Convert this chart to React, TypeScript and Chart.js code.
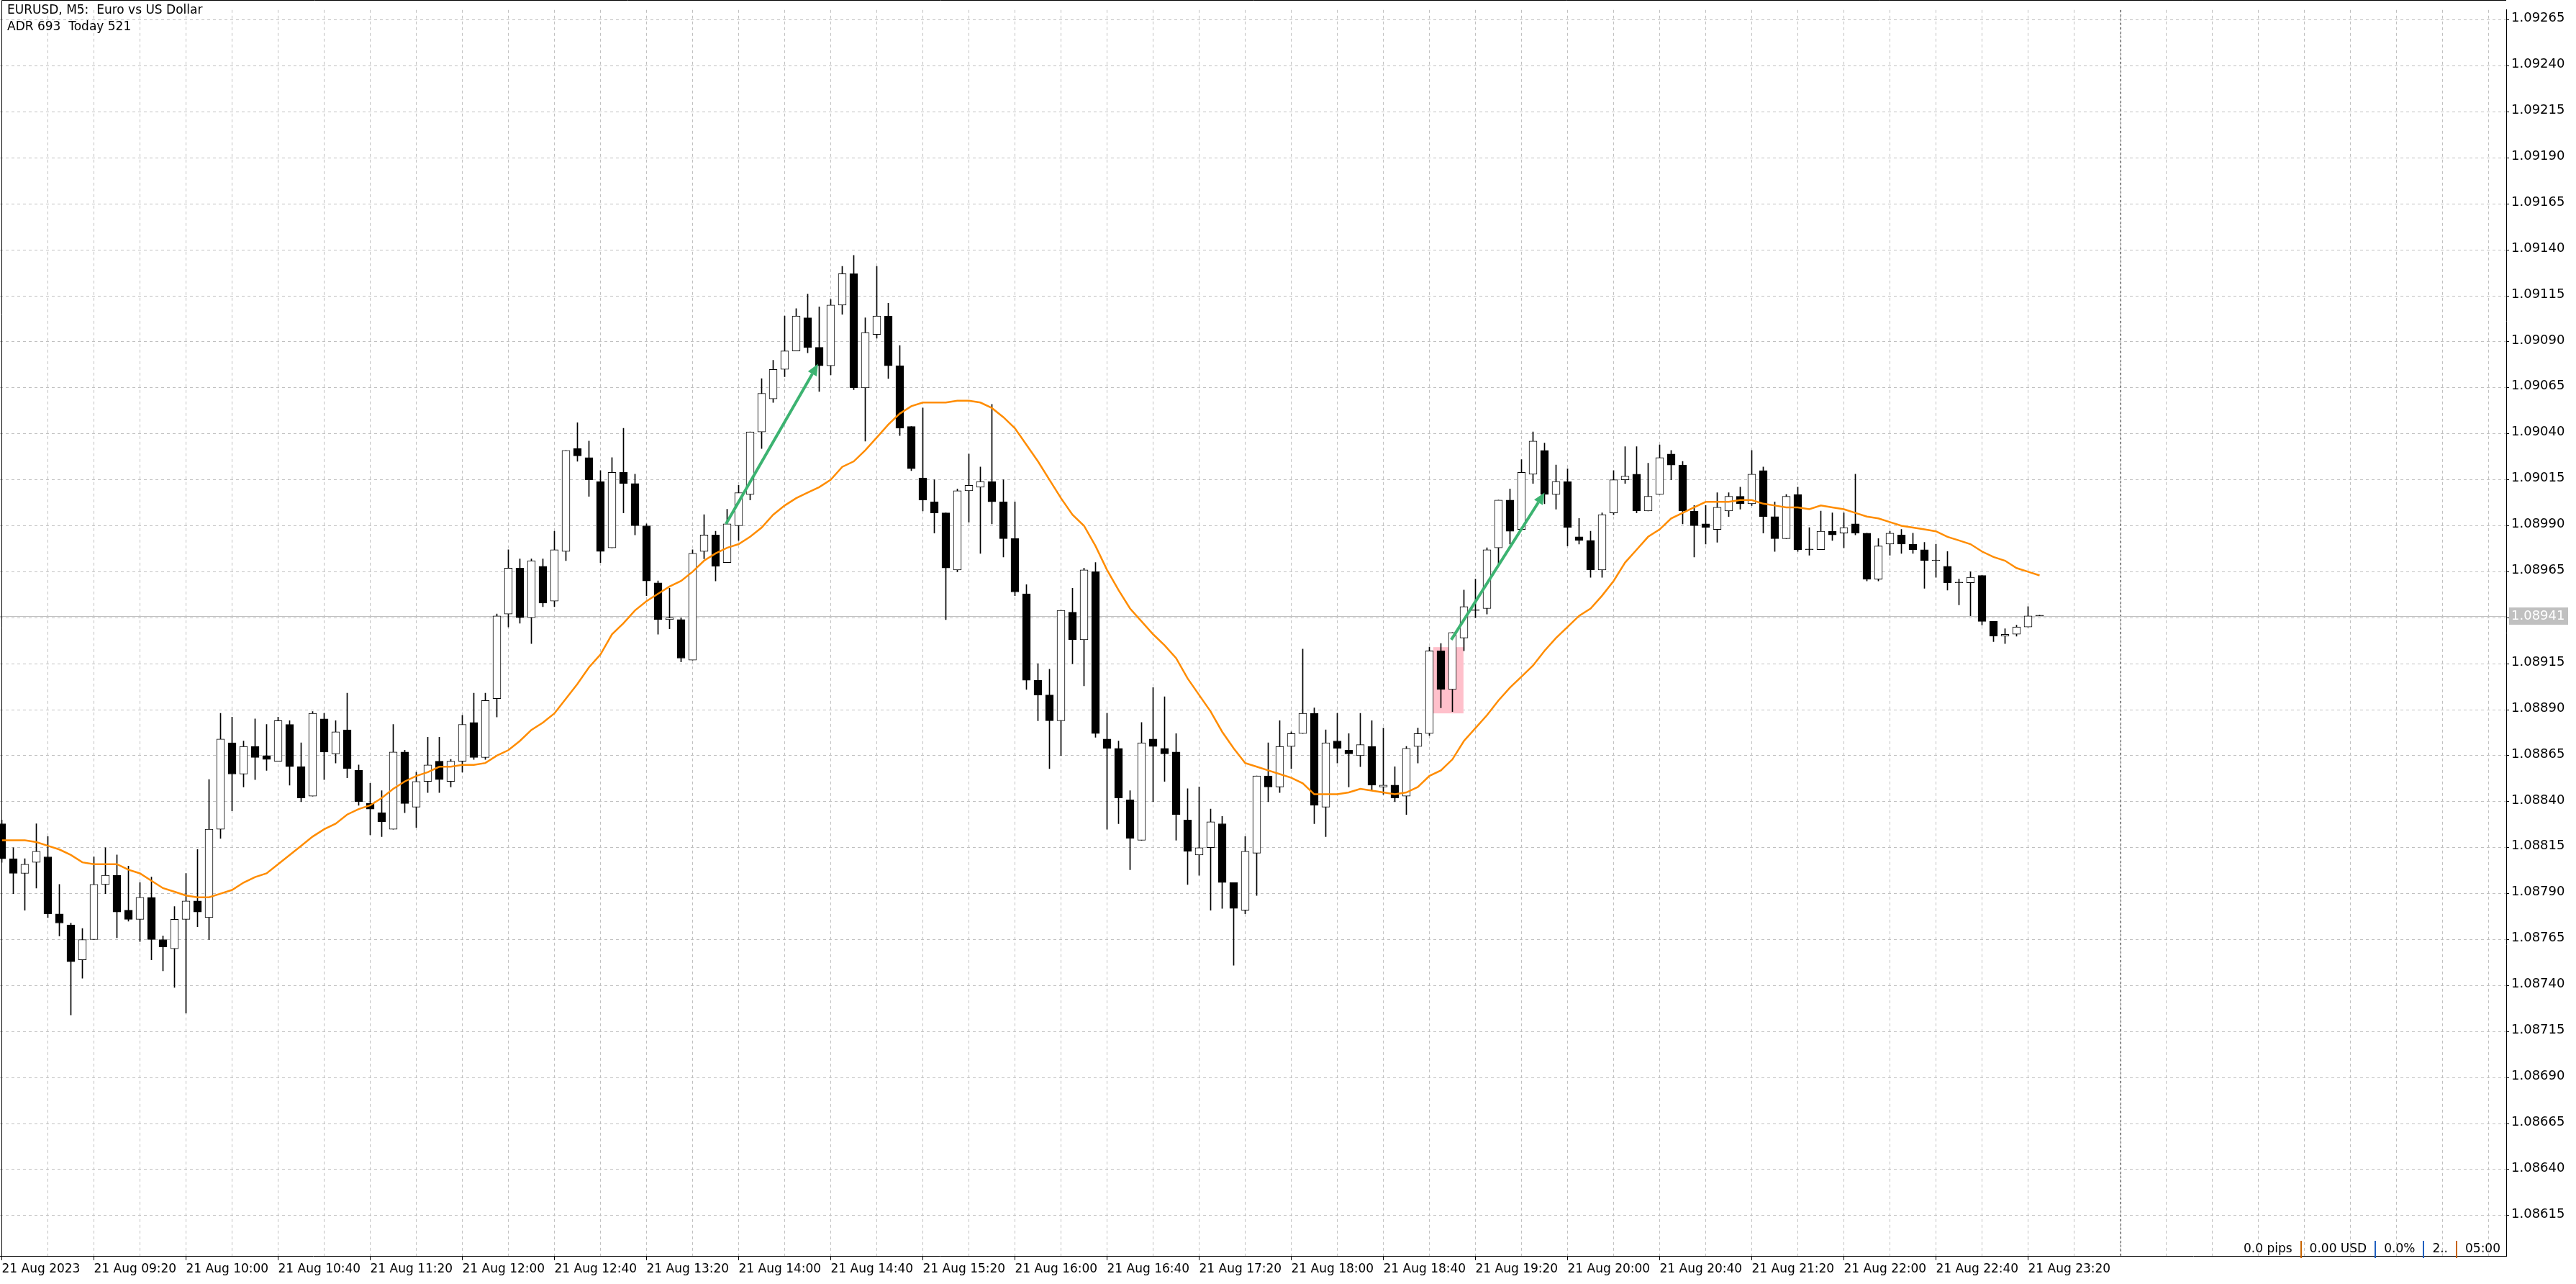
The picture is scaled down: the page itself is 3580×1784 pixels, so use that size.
import React, { useEffect, useRef } from 'react';
import { Chart, registerables } from 'chart.js';

Chart.register(...registerables);

// ---------------- DATA ----------------
const opens = [
  1.08828, 1.08809, 1.08801, 1.08807, 1.08810, 1.08779, 1.08773, 1.08754, 1.08765, 1.08795,
  1.08800, 1.08781, 1.08776, 1.08788, 1.08765, 1.08760, 1.08776, 1.08786, 1.08777, 1.08825,
  1.08872, 1.08855, 1.08870, 1.08865, 1.08862, 1.08882, 1.08859, 1.08843, 1.08885, 1.08866,
  1.08879, 1.08857, 1.08839, 1.08834, 1.08825, 1.08867, 1.08837, 1.08851, 1.08862, 1.08851,
  1.08862, 1.08883, 1.08864, 1.08896, 1.08942, 1.08967, 1.08940, 1.08968, 1.08949, 1.08976,
  1.09032, 1.09027, 1.09014, 1.08978, 1.09019, 1.09013, 1.08990, 1.08959, 1.08939, 1.08939,
  1.08917, 1.08976, 1.08985, 1.08970, 1.08990, 1.09007, 1.09041, 1.09059, 1.09075, 1.09085,
  1.09103, 1.09087, 1.09077, 1.09110, 1.09127, 1.09065, 1.09094, 1.09104, 1.09077, 1.09044,
  1.09016, 1.09003, 1.08997, 1.08966, 1.09009, 1.09011, 1.09014, 1.09003, 1.08983, 1.08953,
  1.08906, 1.08898, 1.08884, 1.08943, 1.08928, 1.08965, 1.08874, 1.08869, 1.08841, 1.08819,
  1.08874, 1.08869, 1.08867, 1.08830, 1.08811, 1.08815, 1.08828, 1.08796, 1.08781, 1.08812,
  1.08854, 1.08848, 1.08870, 1.08877, 1.08888, 1.08837, 1.08873, 1.08868, 1.08865, 1.08870,
  1.08848, 1.08849, 1.08843, 1.08870, 1.08877, 1.08922, 1.08901, 1.08929, 1.08944, 1.08945,
  1.08978, 1.09004, 1.08988, 1.09018, 1.09031, 1.09007, 1.09014, 1.08984, 1.08982, 1.08966,
  1.08997, 1.09015, 1.09018, 1.08998, 1.09007, 1.09029, 1.09023, 1.08998, 1.08991, 1.08988,
  1.08998, 1.09006, 1.09002, 1.09020, 1.08995, 1.08983, 1.09007, 1.08977, 1.08977, 1.08987,
  1.08986, 1.08991, 1.08986, 1.08961, 1.08980, 1.08985, 1.08980, 1.08977, 1.08971, 1.08968,
  1.08959, 1.08959, 1.08963, 1.08938, 1.08930, 1.08931, 1.08935, 1.08941,
];

const highs = [
  1.08830, 1.08815, 1.08809, 1.08828, 1.08821, 1.08795, 1.08774, 1.08771, 1.08810, 1.08815,
  1.08811, 1.08805, 1.08796, 1.08799, 1.08767, 1.08783, 1.08801, 1.08814, 1.08852, 1.08888,
  1.08886, 1.08873, 1.08885, 1.08882, 1.08886, 1.08884, 1.08872, 1.08889, 1.08888, 1.08884,
  1.08899, 1.08860, 1.08850, 1.08846, 1.08882, 1.08868, 1.08856, 1.08875, 1.08875, 1.08863,
  1.08887, 1.08899, 1.08899, 1.08942, 1.08977, 1.08972, 1.08972, 1.08972, 1.08987, 1.09031,
  1.09046, 1.09036, 1.09020, 1.09027, 1.09043, 1.09018, 1.08991, 1.08960, 1.08956, 1.08940,
  1.08977, 1.08996, 1.08987, 1.08999, 1.09012, 1.09041, 1.09070, 1.09080, 1.09104, 1.09108,
  1.09116, 1.09109, 1.09113, 1.09131, 1.09137, 1.09103, 1.09131, 1.09111, 1.09088, 1.09044,
  1.09054, 1.09015, 1.08997, 1.09010, 1.09029, 1.09022, 1.09056, 1.09015, 1.09003, 1.08958,
  1.08915, 1.08912, 1.08944, 1.08956, 1.08967, 1.08970, 1.08888, 1.08873, 1.08846, 1.08883,
  1.08902, 1.08897, 1.08877, 1.08847, 1.08848, 1.08836, 1.08832, 1.08796, 1.08821, 1.08854,
  1.08872, 1.08884, 1.08878, 1.08923, 1.08891, 1.08879, 1.08888, 1.08877, 1.08888, 1.08884,
  1.08880, 1.08859, 1.08870, 1.08880, 1.08924, 1.08926, 1.08932, 1.08955, 1.08961, 1.08978,
  1.09004, 1.09010, 1.09026, 1.09041, 1.09035, 1.09023, 1.09021, 1.08994, 1.08987, 1.08997,
  1.09020, 1.09033, 1.09033, 1.09024, 1.09034, 1.09031, 1.09025, 1.09001, 1.09001, 1.09008,
  1.09008, 1.09011, 1.09031, 1.09022, 1.09003, 1.09007, 1.09011, 1.08989, 1.08998, 1.08997,
  1.08997, 1.09018, 1.08986, 1.08983, 1.08987, 1.08988, 1.08986, 1.08981, 1.08980, 1.08976,
  1.08961, 1.08965, 1.08963, 1.08938, 1.08934, 1.08936, 1.08946, 1.08941,
];

const lows = [
  1.08807, 1.08790, 1.08781, 1.08793, 1.08777, 1.08767, 1.08724, 1.08744, 1.08765, 1.08790,
  1.08766, 1.08775, 1.08764, 1.08754, 1.08748, 1.08739, 1.08725, 1.08772, 1.08765, 1.08820,
  1.08835, 1.08848, 1.08852, 1.08857, 1.08862, 1.08849, 1.08840, 1.08843, 1.08852, 1.08861,
  1.08853, 1.08838, 1.08822, 1.08821, 1.08825, 1.08834, 1.08826, 1.08845, 1.08845, 1.08848,
  1.08856, 1.08863, 1.08863, 1.08886, 1.08935, 1.08937, 1.08926, 1.08946, 1.08946, 1.08971,
  1.09025, 1.09006, 1.08970, 1.08978, 1.08997, 1.08985, 1.08952, 1.08931, 1.08934, 1.08916,
  1.08917, 1.08972, 1.08960, 1.08970, 1.08982, 1.09004, 1.09032, 1.09057, 1.09071, 1.09085,
  1.09084, 1.09063, 1.09072, 1.09105, 1.09064, 1.09036, 1.09092, 1.09070, 1.09039, 1.09020,
  1.08998, 1.08986, 1.08939, 1.08965, 1.08992, 1.08975, 1.08991, 1.08973, 1.08952, 1.08901,
  1.08884, 1.08858, 1.08865, 1.08915, 1.08903, 1.08875, 1.08825, 1.08828, 1.08803, 1.08819,
  1.08840, 1.08851, 1.08819, 1.08795, 1.08800, 1.08781, 1.08782, 1.08751, 1.08779, 1.08789,
  1.08840, 1.08845, 1.08858, 1.08877, 1.08828, 1.08821, 1.08861, 1.08848, 1.08859, 1.08846,
  1.08844, 1.08840, 1.08833, 1.08861, 1.08876, 1.08891, 1.08889, 1.08922, 1.08940, 1.08942,
  1.08968, 1.08980, 1.08988, 1.09013, 1.09002, 1.08999, 1.08979, 1.08980, 1.08962, 1.08962,
  1.08996, 1.09013, 1.08997, 1.08998, 1.09007, 1.09015, 1.08991, 1.08973, 1.08980, 1.08981,
  1.08995, 1.08999, 1.09001, 1.08986, 1.08976, 1.08983, 1.08976, 1.08974, 1.08977, 1.08982,
  1.08978, 1.08985, 1.08960, 1.08960, 1.08974, 1.08975, 1.08975, 1.08956, 1.08962, 1.08955,
  1.08947, 1.08941, 1.08936, 1.08927, 1.08926, 1.08930, 1.08935, 1.08941,
];

const closes = [
  1.08809, 1.08801, 1.08806, 1.08813, 1.08779, 1.08774, 1.08753, 1.08765, 1.08795, 1.08800,
  1.08780, 1.08776, 1.08788, 1.08765, 1.08761, 1.08776, 1.08786, 1.08780, 1.08825, 1.08874,
  1.08855, 1.08870, 1.08864, 1.08863, 1.08884, 1.08859, 1.08842, 1.08888, 1.08867, 1.08878,
  1.08858, 1.08840, 1.08836, 1.08829, 1.08867, 1.08839, 1.08851, 1.08860, 1.08852, 1.08862,
  1.08882, 1.08864, 1.08895, 1.08941, 1.08967, 1.08940, 1.08971, 1.08948, 1.08977, 1.09031,
  1.09028, 1.09015, 1.08976, 1.09019, 1.09013, 1.08990, 1.08960, 1.08939, 1.08940, 1.08918,
  1.08975, 1.08985, 1.08968, 1.08991, 1.09008, 1.09041, 1.09062, 1.09075, 1.09085, 1.09104,
  1.09087, 1.09077, 1.09110, 1.09127, 1.09065, 1.09095, 1.09104, 1.09077, 1.09043, 1.09021,
  1.09004, 1.08997, 1.08967, 1.09009, 1.09012, 1.09014, 1.09003, 1.08983, 1.08954, 1.08906,
  1.08898, 1.08884, 1.08944, 1.08928, 1.08966, 1.08877, 1.08869, 1.08842, 1.08820, 1.08872,
  1.08870, 1.08866, 1.08833, 1.08813, 1.08815, 1.08829, 1.08796, 1.08782, 1.08813, 1.08854,
  1.08848, 1.08870, 1.08877, 1.08888, 1.08838, 1.08872, 1.08869, 1.08866, 1.08871, 1.08849,
  1.08849, 1.08842, 1.08869, 1.08877, 1.08922, 1.08901, 1.08932, 1.08946, 1.08944, 1.08977,
  1.09004, 1.08987, 1.09019, 1.09036, 1.09007, 1.09014, 1.08989, 1.08982, 1.08966, 1.08996,
  1.09015, 1.09017, 1.08998, 1.09006, 1.09027, 1.09023, 1.08998, 1.08990, 1.08989, 1.09000,
  1.09006, 1.09002, 1.09018, 1.08995, 1.08983, 1.09006, 1.08977, 1.08977, 1.08987, 1.08985,
  1.08989, 1.08986, 1.08961, 1.08979, 1.08986, 1.08980, 1.08977, 1.08971, 1.08971, 1.08959,
  1.08959, 1.08962, 1.08938, 1.08930, 1.08931, 1.08935, 1.08941, 1.08941,
];

const maValues = [
  1.08819, 1.08819, 1.08819, 1.08818, 1.08816, 1.08814, 1.08811, 1.08807, 1.08806, 1.08806,
  1.08806, 1.08803, 1.08801, 1.08797, 1.08793, 1.08791, 1.08789, 1.08788, 1.08788, 1.08790,
  1.08792, 1.08796, 1.08799, 1.08801, 1.08806, 1.08811, 1.08816, 1.08821, 1.08825, 1.08828,
  1.08833, 1.08836, 1.08838, 1.08842, 1.08847, 1.08851, 1.08854, 1.08856, 1.08859, 1.08859,
  1.08860, 1.08860, 1.08861, 1.08865, 1.08868, 1.08873, 1.08879, 1.08883, 1.08888, 1.08896,
  1.08904, 1.08913, 1.08920, 1.08931, 1.08937, 1.08944, 1.08949, 1.08953, 1.08957, 1.08960,
  1.08965, 1.08971, 1.08975, 1.08978, 1.08980, 1.08984, 1.08989, 1.08996, 1.09001, 1.09005,
  1.09008, 1.09011, 1.09015, 1.09022, 1.09025, 1.09031, 1.09038, 1.09045, 1.09051, 1.09055,
  1.09057, 1.09057, 1.09057, 1.09058, 1.09058, 1.09057, 1.09054, 1.09049, 1.09043, 1.09034,
  1.09025, 1.09015, 1.09005, 1.08996, 1.08990, 1.08979, 1.08966, 1.08955, 1.08945, 1.08938,
  1.08931, 1.08925, 1.08918, 1.08907, 1.08898, 1.08889, 1.08878, 1.08869, 1.08861, 1.08859,
  1.08857, 1.08855, 1.08853, 1.08850, 1.08844, 1.08844, 1.08844, 1.08845, 1.08847, 1.08846,
  1.08845, 1.08844, 1.08845, 1.08848, 1.08854, 1.08857, 1.08863, 1.08873, 1.08880, 1.08887,
  1.08895, 1.08902, 1.08908, 1.08914, 1.08922, 1.08929, 1.08935, 1.08941, 1.08945, 1.08952,
  1.08960, 1.08970, 1.08977, 1.08984, 1.08988, 1.08994, 1.08997, 1.09000, 1.09003, 1.09003,
  1.09003, 1.09004, 1.09004, 1.09002, 1.09001, 1.09000, 1.09000, 1.08999, 1.09001, 1.09000,
  1.08999, 1.08997, 1.08995, 1.08994, 1.08992, 1.08990, 1.08989, 1.08988, 1.08987, 1.08984,
  1.08982, 1.08980, 1.08976, 1.08973, 1.08971, 1.08967, 1.08965, 1.08963,
];

const priceTicks = [
  1.09265, 1.0924, 1.09215, 1.0919, 1.09165, 1.0914, 1.09115, 1.0909, 1.09065, 1.0904,
  1.09015, 1.0899, 1.08965, 1.0894, 1.08915, 1.0889, 1.08865, 1.0884, 1.08815, 1.0879,
  1.08765, 1.0874, 1.08715, 1.0869, 1.08665, 1.0864, 1.08615,
];

const timeLabels = [
  '21 Aug 2023', '21 Aug 09:20', '21 Aug 10:00', '21 Aug 10:40', '21 Aug 11:20', '21 Aug 12:00',
  '21 Aug 12:40', '21 Aug 13:20', '21 Aug 14:00', '21 Aug 14:40', '21 Aug 15:20', '21 Aug 16:00',
  '21 Aug 16:40', '21 Aug 17:20', '21 Aug 18:00', '21 Aug 18:40', '21 Aug 19:20', '21 Aug 20:00',
  '21 Aug 20:40', '21 Aug 21:20', '21 Aug 22:00', '21 Aug 22:40', '21 Aug 23:20',
];
const barsPerLabel = 8;
const barsPerGrid = 4;

const currentPrice = 1.08941;
const separatorBar = 184; // 22 Aug 00:00

const arrowStarts = [[62.9, 1.08991], [125.9, 1.08928]];
const arrowEnds = [[70.9, 1.09078], [134.0, 1.09008]];

const boxBars = [124.33, 126.96];
const boxPrices = [1.08888, 1.08924];

const headerLines = ['EURUSD, M5:  Euro vs US Dollar', 'ADR 693  Today 521'];
const statusParts = ['0.0 pips', '0.00 USD', '0.0%', '2..', '05:00'];
const statusSepColors = ['#c86400', '#2060c0', '#2060c0', '#c86400'];

// ---------------- LAYOUT ----------------
const W = 3580;
const H = 1784;
const FONT = '"DejaVu Sans", Verdana, sans-serif';
const yMax = 1.09270435;
const yMin = 1.08593028;
const xMin = -0.15625;
const xMax = 217.53125;

const labelForBar = (v: number) => {
  if (v % barsPerLabel !== 0) return '';
  const k = v / barsPerLabel;
  return k < timeLabels.length ? timeLabels[k] : '';
};

const drawArrow = (ctx: CanvasRenderingContext2D, x1: number, y1: number, x2: number, y2: number) => {
  const ang = Math.atan2(y2 - y1, x2 - x1);
  const head = 16;
  const hw = 7;
  const bx = x2 - head * Math.cos(ang);
  const by = y2 - head * Math.sin(ang);
  ctx.strokeStyle = '#3CB371';
  ctx.fillStyle = '#3CB371';
  ctx.lineWidth = 4;
  ctx.beginPath();
  ctx.moveTo(x1, y1);
  ctx.lineTo(bx, by);
  ctx.stroke();
  ctx.beginPath();
  ctx.moveTo(x2, y2);
  ctx.lineTo(bx + hw * Math.sin(ang), by - hw * Math.cos(ang));
  ctx.lineTo(bx - hw * Math.sin(ang), by + hw * Math.cos(ang));
  ctx.closePath();
  ctx.fill();
};

const extrasPlugin = {
  id: 'mtExtras',
  beforeDatasetsDraw(chart: any) {
    const { ctx, chartArea: a, scales } = chart;
    const x = scales.x;
    const y = scales.y;
    ctx.save();
    ctx.beginPath();
    ctx.rect(a.left, a.top, a.right - a.left, a.bottom - a.top);
    ctx.clip();
    const sx = Math.round(x.getPixelForValue(separatorBar)) + 0.5;
    ctx.strokeStyle = '#404040';
    ctx.lineWidth = 1;
    ctx.setLineDash([3, 3]);
    ctx.beginPath();
    ctx.moveTo(sx, a.top);
    ctx.lineTo(sx, a.bottom);
    ctx.stroke();
    ctx.setLineDash([]);
    const py = Math.round(y.getPixelForValue(currentPrice)) + 0.5;
    ctx.strokeStyle = '#c0c0c0';
    ctx.beginPath();
    ctx.moveTo(a.left, py);
    ctx.lineTo(a.right, py);
    ctx.stroke();
    const bx0 = x.getPixelForValue(boxBars[0]);
    const bx1 = x.getPixelForValue(boxBars[1]);
    const by0 = y.getPixelForValue(boxPrices[1]);
    const by1 = y.getPixelForValue(boxPrices[0]);
    ctx.fillStyle = '#FFC0CB';
    ctx.fillRect(bx0, by0, bx1 - bx0, by1 - by0);
    ctx.restore();
  },
  afterDatasetsDraw(chart: any) {
    const { ctx, chartArea: a, scales } = chart;
    const x = scales.x;
    const y = scales.y;
    ctx.save();
    for (let i = 0; i < arrowStarts.length; i++) {
      drawArrow(
        ctx,
        x.getPixelForValue(arrowStarts[i][0]), y.getPixelForValue(arrowStarts[i][1]),
        x.getPixelForValue(arrowEnds[i][0]), y.getPixelForValue(arrowEnds[i][1]),
      );
    }
    ctx.strokeStyle = '#000';
    ctx.lineWidth = 1;
    ctx.beginPath();
    ctx.moveTo(2.5, a.bottom);
    ctx.lineTo(2.5, 0.5);
    ctx.lineTo(a.right, 0.5);
    ctx.stroke();
    ctx.fillStyle = '#000';
    ctx.font = `17px ${FONT}`;
    ctx.textBaseline = 'middle';
    ctx.textAlign = 'left';
    ctx.fillText(headerLines[0], 10, 15);
    ctx.fillText(headerLines[1], 10, 38);
    const gap = 24;
    const widths = statusParts.map((s) => ctx.measureText(s).width);
    const total = widths.reduce((s, w) => s + w, 0) + gap * (statusParts.length - 1);
    let cx = a.right - 8 - total;
    const sy = a.bottom - 9;
    for (let i = 0; i < statusParts.length; i++) {
      ctx.fillStyle = '#000';
      ctx.fillText(statusParts[i], cx, sy);
      cx += widths[i];
      if (i < statusSepColors.length) {
        ctx.strokeStyle = statusSepColors[i];
        ctx.lineWidth = 2;
        ctx.beginPath();
        ctx.moveTo(Math.round(cx + gap / 2), sy - 12);
        ctx.lineTo(Math.round(cx + gap / 2), sy + 12);
        ctx.stroke();
        cx += gap;
      }
    }
    ctx.restore();
  },
  afterDraw(chart: any) {
    const { ctx, chartArea: a, scales } = chart;
    const y = scales.y;
    const py = Math.round(y.getPixelForValue(currentPrice));
    ctx.save();
    ctx.fillStyle = '#c0c0c0';
    ctx.fillRect(a.right + 4, py - 12, 82, 24);
    ctx.fillStyle = '#fff';
    ctx.font = `18px ${FONT}`;
    ctx.textBaseline = 'middle';
    ctx.textAlign = 'left';
    ctx.fillText(currentPrice.toFixed(5), a.right + 7, py);
    ctx.restore();
  },
};

export default function App() {
  const ref = useRef<HTMLCanvasElement | null>(null);

  useEffect(() => {
    document.body.style.margin = '0';
    const canvas = ref.current;
    if (!canvas) return;
    Chart.defaults.font.family = FONT;

    const xTicks: number[] = [];
    for (let v = 0; v <= xMax; v += barsPerGrid) xTicks.push(v);

    const chart = new Chart(canvas, {
      type: 'bar',
      data: {
        datasets: [
          {
            type: 'line',
            label: 'MA',
            data: maValues.map((v, i) => ({ x: i, y: v })),
            borderColor: '#FF8C00',
            borderWidth: 2.5,
            pointRadius: 0,
            tension: 0,
            fill: false,
            order: 1,
          } as any,
          {
            type: 'bar',
            label: 'body',
            data: opens.map((o, i) => ({ x: i, y: [o, closes[i]] })),
            backgroundColor: (c: any) => {
              const i = c.dataIndex;
              if (opens[i] === closes[i]) return '#000';
              return closes[i] > opens[i] ? '#ffffff' : '#000000';
            },
            borderColor: '#000',
            borderWidth: 1,
            borderSkipped: false,
            barThickness: 11,
            minBarLength: 1,
            grouped: false,
            order: 2,
          } as any,
          {
            type: 'bar',
            label: 'wick',
            data: lows.map((l, i) => ({ x: i, y: [l, highs[i]] })),
            backgroundColor: '#000',
            borderWidth: 0,
            barThickness: 1,
            minBarLength: 1,
            grouped: false,
            order: 3,
          } as any,
        ],
      },
      options: {
        responsive: false,
        animation: false,
        devicePixelRatio: 1,
        events: [],
        layout: { padding: 0, autoPadding: false },
        plugins: {
          legend: { display: false },
          tooltip: { enabled: false },
        },
        scales: {
          x: {
            type: 'linear',
            min: xMin,
            max: xMax,
            offset: false,
            afterBuildTicks: (s: any) => {
              s.ticks = xTicks.map((v) => ({ value: v }));
            },
            afterFit: (s: any) => {
              s.height = H - 1745;
            },
            ticks: {
              callback: (v: any) => labelForBar(Number(v)),
              align: 'start',
              autoSkip: false,
              maxRotation: 0,
              minRotation: 0,
              color: '#000',
              font: { size: 17, family: FONT },
              padding: 2,
            },
            grid: {
              offset: false,
              color: '#c0c0c0',
              lineWidth: 1,
              drawTicks: true,
              tickLength: 6,
              tickColor: (c: any) => (c.tick && labelForBar(c.tick.value) ? '#000' : 'rgba(0,0,0,0)'),
            },
            border: { display: true, color: '#000', width: 1, dash: [4, 4] },
          } as any,
          y: {
            type: 'linear',
            position: 'right',
            min: yMin,
            max: yMax,
            afterBuildTicks: (s: any) => {
              s.ticks = priceTicks.map((v) => ({ value: v }));
            },
            afterFit: (s: any) => {
              s.width = W - 3483;
            },
            ticks: {
              callback: (v: any) => (Math.abs(Number(v) - currentPrice) < 0.00008 ? '' : Number(v).toFixed(5)),
              autoSkip: false,
              color: '#000',
              font: { size: 18, family: FONT },
              padding: 3,
              labelOffset: -2,
            },
            grid: {
              color: '#c0c0c0',
              lineWidth: 1,
              drawTicks: true,
              tickLength: 4,
              tickColor: '#000',
            },
            border: { display: true, color: '#000', width: 1, dash: [4, 4] },
          } as any,
        },
      },
      plugins: [extrasPlugin],
    } as any);

    return () => chart.destroy();
  }, []);

  return (
    <div style={{ width: W, height: H, background: '#fff' }}>
      <canvas ref={ref} width={W} height={H} style={{ display: 'block', width: W, height: H }} />
    </div>
  );
}
